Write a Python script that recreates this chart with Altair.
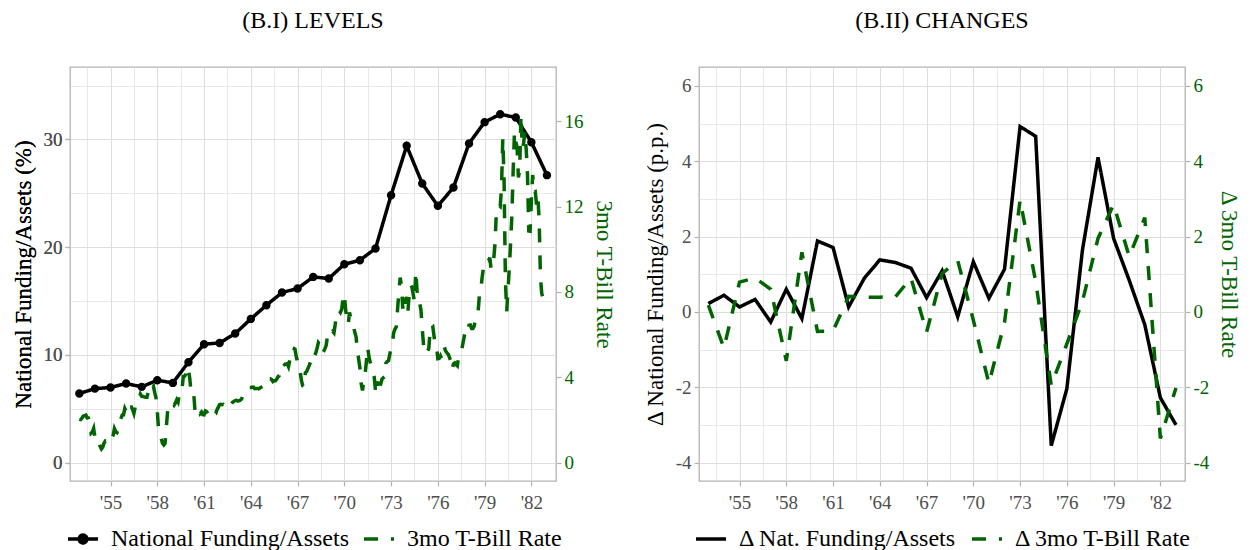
import altair as alt
import pandas as pd

FONT = "Liberation Serif"
GREEN = "#006400"
GRID = "#dedede"
BORDER = "#b3b3b3"
TEXT_GREY = "#4d4d4d"

# Annual series, 1953-1983
years = list(range(1953, 1984))
funding_level = [6.41, 6.87, 6.97, 7.34, 7.03, 7.65, 7.40, 9.32, 10.99, 11.11,
                 11.98, 13.34, 14.61, 15.79, 16.16, 17.24, 17.09, 18.42, 18.79, 19.88,
                 24.83, 29.41, 25.91, 23.84, 25.54, 29.63, 31.61, 32.35, 32.04, 29.75,
                 26.69]
funding_change = [0.22, 0.44, 0.13, 0.33, -0.27, 0.60, -0.18, 1.88, 1.71, 0.13,
                  0.89, 1.38, 1.31, 1.16, 0.38, 1.09, -0.13, 1.33, 0.36, 1.13,
                  4.92, 4.66, -3.55, -2.04, 1.64, 4.10, 1.95, 0.84, -0.34, -2.28,
                  -3.00]
tbill_change = [0.18, -0.96, 0.79, 0.90, 0.60, -1.30, 1.58, -0.52, -0.51, 0.41,
                0.39, 0.39, 0.40, 0.90, -0.54, 1.02, 1.36, -0.22, -1.90, -0.28,
                2.97, 0.80, -1.95, -0.85, 0.28, 1.95, 2.85, 1.47, 2.50, -3.36,
                -2.02]

# Monthly 3-month T-bill rate (%), January to December of each year
tbill_1950s = [  # 1953-1959
    2.04, 2.02, 2.08, 2.18, 2.20, 2.23, 2.10, 2.09, 1.79, 1.38, 1.44, 1.60,
    1.18, 0.97, 1.03, 0.96, 0.76, 0.64, 0.72, 0.92, 1.01, 0.98, 0.93, 1.14,
    1.23, 1.17, 1.28, 1.59, 1.45, 1.41, 1.60, 1.90, 2.07, 2.23, 2.24, 2.54,
    2.41, 2.32, 2.25, 2.60, 2.61, 2.49, 2.31, 2.60, 2.84, 2.90, 2.99, 3.21,
    3.11, 3.10, 3.08, 3.06, 3.06, 3.29, 3.16, 3.37, 3.53, 3.58, 3.29, 3.04,
    2.44, 1.53, 1.30, 1.13, 0.91, 0.83, 0.91, 1.69, 2.44, 2.63, 2.67, 2.77,
    2.82, 2.70, 2.80, 2.95, 2.84, 3.21, 3.20, 3.38, 4.04, 4.05, 4.15, 4.49,
]
tbill_1960s = [
    4.35, 3.96, 3.31, 3.23, 3.29, 2.46, 2.30, 2.30, 2.48, 2.30, 2.37, 2.25,
    2.24, 2.42, 2.39, 2.29, 2.29, 2.33, 2.24, 2.39, 2.28, 2.30, 2.48, 2.60,
    2.72, 2.73, 2.72, 2.73, 2.68, 2.73, 2.88, 2.78, 2.80, 2.74, 2.83, 2.87,
    2.91, 2.92, 2.89, 2.90, 2.93, 2.99, 3.18, 3.32, 3.38, 3.45, 3.52, 3.52,
    3.52, 3.53, 3.54, 3.47, 3.48, 3.48, 3.46, 3.50, 3.53, 3.57, 3.64, 3.84,
    3.81, 3.93, 3.93, 3.93, 3.89, 3.80, 3.84, 3.84, 3.92, 4.03, 4.09, 4.38,
    4.59, 4.65, 4.59, 4.62, 4.64, 4.50, 4.80, 4.96, 5.37, 5.35, 5.32, 4.96,
    4.72, 4.56, 4.26, 3.84, 3.60, 3.54, 4.21, 4.27, 4.42, 4.56, 4.73, 5.01,
    5.08, 4.97, 5.14, 5.36, 5.62, 5.54, 5.38, 5.10, 5.20, 5.33, 5.49, 5.92,
    6.18, 6.16, 6.08, 6.15, 6.08, 6.49, 7.00, 7.01, 7.13, 7.04, 7.19, 7.72,
]
tbill_1970s = [
    7.91, 7.16, 6.71, 6.48, 7.04, 6.74, 6.50, 6.41, 6.12, 5.91, 5.28, 4.87,
    4.44, 3.70, 3.38, 3.86, 4.14, 4.75, 5.40, 4.94, 4.69, 4.46, 4.22, 4.01,
    3.38, 3.20, 3.73, 3.71, 3.69, 3.91, 3.98, 4.02, 4.66, 4.74, 4.78, 5.07,
    5.41, 5.60, 6.09, 6.26, 6.36, 7.19, 8.01, 8.67, 8.29, 7.22, 7.83, 7.45,
    7.77, 7.12, 7.96, 8.33, 8.23, 7.90, 7.55, 8.96, 8.06, 7.46, 7.47, 7.15,
    6.26, 5.50, 5.49, 5.61, 5.23, 5.34, 6.13, 6.44, 6.42, 5.96, 5.48, 5.44,
    4.87, 4.88, 5.00, 4.86, 5.20, 5.41, 5.23, 5.14, 5.08, 4.92, 4.75, 4.35,
    4.62, 4.67, 4.60, 4.54, 4.96, 5.02, 5.19, 5.49, 5.81, 6.16, 6.10, 6.07,
    6.44, 6.45, 6.29, 6.29, 6.41, 6.73, 7.01, 7.08, 7.85, 7.99, 8.64, 9.08,
    9.35, 9.32, 9.48, 9.46, 9.61, 9.06, 9.24, 9.52, 10.26, 11.70, 11.79, 12.04,
]
tbill_1980s = [  # 1980-1982
    12.00, 12.86, 15.20, 13.20, 8.58, 7.07, 8.06, 9.13, 10.27, 11.62, 13.73, 15.49,
    15.02, 14.79, 13.36, 13.69, 16.30, 14.73, 14.95, 15.51, 14.70, 13.54, 10.86, 10.85,
    12.28, 13.48, 12.68, 12.70, 12.09, 12.47, 11.35, 8.68, 7.92, 7.71, 8.07, 7.94,
]

x_major = list(range(1955, 1983, 3))
x_minor = [y + 1.5 for y in range(1952, 1980, 3)]

levels_names = ["National Funding/Assets", "3mo T-Bill Rate"]
changes_names = ["\u0394 Nat. Funding/Assets", "\u0394 3mo T-Bill Rate"]

# ---- tables ----
monthly = tbill_1950s + tbill_1960s + tbill_1970s + tbill_1980s
df_tbill = pd.DataFrame({
    "t": [1953 + i / 12 for i in range(len(monthly))],
    "v": monthly,
    "series": levels_names[1],
})
df_fund = pd.DataFrame({"t": years, "v": funding_level, "series": levels_names[0]})
df_dfund = pd.DataFrame({"t": years, "v": funding_change, "series": changes_names[0]})
df_dtbill = pd.DataFrame({"t": years, "v": tbill_change, "series": changes_names[1]})

X_DOMAIN = [1952.4, 1983.58]
W, H = 486, 414
LW = 3.5
DASH = [14, 13]

# legend glyphs: a line with a dot, and a plain line
LINE_DOT = "M-1,0H1M-0.26,0A0.26,0.26,0,1,1,0.26,0A0.26,0.26,0,1,1,-0.26,0Z"
LINE_ONLY = "M-1,0H1"

# plain hyphen for negative tick labels
HYPHEN = "replace(datum.label, '\u2212', '-')"


def minor_cond(test, minor_val, major_val):
    return {"condition": {"test": test, "value": minor_val}, "value": major_val}


def x_enc():
    test = "datum.value % 1 != 0"
    return alt.X(
        "t:Q",
        scale=alt.Scale(domain=X_DOMAIN, nice=False, zero=False),
        axis=alt.Axis(
            values=x_major + x_minor,
            labelExpr="datum.value % 1 == 0 ? \"'\" + substring(toString(datum.value), 2, 4) : ''",
            title=None, domain=False, labelFlush=False,
            tickSize=5, tickColor=BORDER, tickWidth=1.2,
            tickOpacity=minor_cond(test, 0, 1),
            gridColor=GRID, gridWidth=minor_cond(test, 0.7, 1.1),
            labelFont=FONT, labelFontSize=19, labelColor=TEXT_GREY, labelPadding=7,
        ),
    )


def y_primary(domain, major, minor, step, title):
    test = f"datum.value % {step} != 0"
    return alt.Y(
        "v:Q",
        scale=alt.Scale(domain=domain, nice=False, zero=False),
        axis=alt.Axis(
            orient="left", values=major + minor, title=title,
            labelExpr=f"datum.value % {step} == 0 ? {HYPHEN} : ''",
            domain=False, labelFlush=False,
            tickSize=5, tickColor=BORDER, tickWidth=1.2,
            tickOpacity=minor_cond(test, 0, 1),
            gridColor=GRID, gridWidth=minor_cond(test, 0.7, 1.1),
            labelFont=FONT, labelFontSize=19, labelColor=TEXT_GREY, labelPadding=3,
            titleFont=FONT, titleFontSize=23, titleFontWeight="normal",
            titleColor="black", titlePadding=8,
        ),
    )


def y_secondary(domain, values, title):
    return alt.Y(
        "v:Q",
        scale=alt.Scale(domain=domain, nice=False, zero=False),
        axis=alt.Axis(
            orient="right", values=values, title=title, grid=False,
            labelExpr=HYPHEN,
            domain=False, labelFlush=False,
            tickSize=5, tickColor=BORDER, tickWidth=1.2,
            labelFont=FONT, labelFontSize=19, labelColor=GREEN, labelPadding=3,
            titleFont=FONT, titleFontSize=23, titleFontWeight="normal",
            titleColor=GREEN, titlePadding=8,
        ),
    )


def make_legend(legend_x):
    return alt.Legend(
        title=None, orient="none", direction="horizontal",
        legendX=legend_x, legendY=H + 41,
        labelFont=FONT, labelFontSize=24, labelColor="black", labelLimit=0,
        symbolType="stroke", symbolSize=900, symbolStrokeWidth=LW,
        symbolFillColor="black",
        labelOffset=11, columnPadding=8,
    )


def series_enc(names, legend_x):
    legend = make_legend(legend_x)
    color = alt.Color("series:N", scale=alt.Scale(domain=names, range=["black", GREEN]),
                      legend=legend)
    dash = alt.StrokeDash("series:N", scale=alt.Scale(domain=names, range=[[1, 0], DASH]),
                          legend=legend)
    return color, dash


def panel_title(text):
    return alt.TitleParams(text, font=FONT, fontSize=24, fontWeight="normal",
                           color="black", anchor="middle", offset=34)


# ---- left panel: levels ----
color_l, dash_l = series_enc(levels_names, -4)
shape_l = alt.Shape("series:N", scale=alt.Scale(domain=levels_names, range=[LINE_DOT, LINE_ONLY]),
                    legend=make_legend(-4))
fund_y = y_primary([-1.71, 36.73], [0, 10, 20, 30], [5, 15, 25, 35], 10,
                   "National Funding/Assets (%)")
fund_line = alt.Chart(df_fund).mark_line(strokeWidth=LW).encode(
    x=x_enc(), y=fund_y, color=color_l, strokeDash=dash_l)
fund_pts = alt.Chart(df_fund).mark_point(size=1050, filled=True, opacity=1, strokeWidth=0).encode(
    x=x_enc(), y=fund_y, color=color_l, shape=shape_l)
tbill_line = alt.Chart(df_tbill).mark_line(strokeWidth=LW).encode(
    x=x_enc(),
    y=y_secondary([-0.86, 18.54], [0, 4, 8, 12, 16], "3mo T-Bill Rate"),
    color=color_l, strokeDash=dash_l)

left = alt.layer(fund_line, fund_pts, tbill_line).resolve_scale(y="independent").properties(
    width=W, height=H, title=panel_title("(B.I) LEVELS"))

# ---- right panel: changes ----
color_r, dash_r = series_enc(changes_names, -5)
dfund_y = y_primary([-4.49, 6.50], [-4, -2, 0, 2, 4, 6], [-3, -1, 1, 3, 5], 2,
                    "\u0394 National Funding/Assets (p.p.)")
dfund_line = alt.Chart(df_dfund).mark_line(strokeWidth=LW).encode(
    x=x_enc(), y=dfund_y, color=color_r, strokeDash=dash_r)
dtbill_line = alt.Chart(df_dtbill).mark_line(strokeWidth=LW).encode(
    x=x_enc(),
    y=y_secondary([-4.49, 6.50], [-4, -2, 0, 2, 4, 6], "\u0394 3mo T-Bill Rate"),
    color=color_r, strokeDash=dash_r)

right = alt.layer(dfund_line, dtbill_line).resolve_scale(y="independent").properties(
    width=W, height=H, title=panel_title("(B.II) CHANGES"))

chart = (
    alt.hconcat(left, right, spacing=28)
    .resolve_scale(color="independent", strokeDash="independent", shape="independent")
    .properties(padding={"left": 11, "top": 8, "right": 5, "bottom": 0}, background="white")
    .configure(font=FONT)
    .configure_view(stroke=BORDER, strokeWidth=1.3)
)

chart.save("out.html", embed_options={"renderer": "svg", "actions": False})
